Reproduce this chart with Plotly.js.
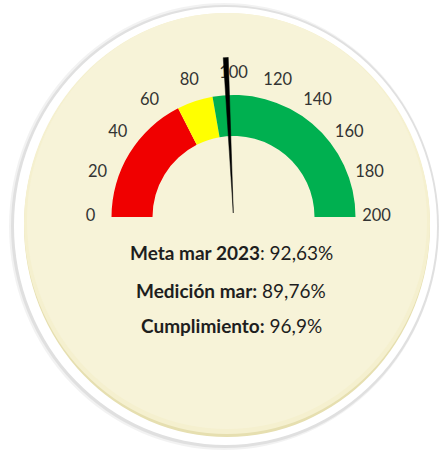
<!DOCTYPE html>
<html>
<head>
<meta charset="utf-8">
<script src="https://cdn.plot.ly/plotly-3.0.1.min.js"></script>
<style>html,body{margin:0;padding:0;background:#fff;}#chart{width:439px;height:450px;}</style>
</head>
<body>
<div id="chart"></div>
<script>
// ---- data ----
const gaugeMin = 0;
const gaugeMax = 200;
const tickValues = [0, 20, 40, 60, 80, 100, 120, 140, 160, 180, 200];
const tickLabels = ["0", "20", "40", "60", "80", "100", "120", "140", "160", "180", "200"];
const bandStarts = [0, 70, 89];
const bandEnds = [70, 89, 200];
const bandColors = ["#F00000", "#FFFF00", "#00B050"];
const needleValue = 96.9;
const infoLabels = ["Meta mar 2023", "Medición mar:", "Cumplimiento:"];
const infoSeparators = [": ", " ", " "];
const infoValues = [92.63, 89.76, 96.9];

// ---- helpers ----
const W = 439, H = 450;
const deg = v => (v - gaugeMin) * 180 / (gaugeMax - gaugeMin);
const px = x => x / W;
const py = y => 1 - y / H;
const fmt = v => String(v).replace('.', ',') + '%';

// gauge geometry (pixels)
const cx = 233.5, cy = 217;
const rMax = 160, rOuter = 122, rInner = 81, rLabel = 143, rNeedleBase = 4;
const needleHalf = 0.9; // degrees

const traces = [];
traces.push({
  type: 'barpolar',
  r: bandStarts.map(() => rOuter - rInner),
  base: bandStarts.map(() => rInner),
  theta: bandStarts.map((s, i) => (deg(s) + deg(bandEnds[i])) / 2),
  width: bandStarts.map((s, i) => deg(bandEnds[i]) - deg(s)),
  marker: {color: bandColors, line: {width: 0}},
  hoverinfo: 'skip'
});
traces.push({
  type: 'scatterpolar',
  mode: 'text',
  r: tickValues.map(() => rLabel),
  theta: tickValues.map(deg),
  text: tickLabels,
  textposition: 'middle center',
  textfont: {family: 'Lato, sans-serif', size: 16.5, color: '#333333'},
  cliponaxis: false,
  hoverinfo: 'skip'
});
const nd = deg(needleValue);
traces.push({
  type: 'scatterpolar',
  mode: 'lines',
  r: [rNeedleBase, rMax, rMax, rNeedleBase],
  theta: [nd, nd - needleHalf, nd + needleHalf, nd],
  fill: 'toself',
  fillcolor: '#000000',
  line: {color: '#000000', width: 0.5},
  cliponaxis: false,
  hoverinfo: 'skip'
});

const ell = (x0, y0, x1, y1, color) => ({
  type: 'circle', xref: 'paper', yref: 'paper', layer: 'below',
  x0: px(x0), x1: px(x1), y0: py(y1), y1: py(y0),
  fillcolor: color, line: {width: 0}
});

const shapes = [
  ell(9, 3, 439, 450, 'rgba(0,0,0,0.05)'),
  ell(11, 5, 439, 448, 'rgba(0,0,0,0.07)'),
  ell(14, 7, 437, 445, '#FFFFFF'),
  ell(24, 14, 430, 437, '#E6DFB0'),
  ell(24, 13, 430, 434, '#F5F0CF'),
  ell(27, 13, 427, 429, '#F7F3D8')
];

const annotations = infoLabels.map((lab, i) => ({
  xref: 'paper', yref: 'paper',
  x: px(231), y: py([252, 290, 325][i]),
  xanchor: 'center', yanchor: 'middle',
  showarrow: false,
  text: '<b>' + lab + '</b>' + infoSeparators[i] + fmt(infoValues[i]),
  font: {family: 'Lato, sans-serif', size: 19, color: '#1E1E1E'}
}));

const layout = {
  width: W, height: H,
  margin: {l: 0, r: 0, t: 0, b: 0},
  paper_bgcolor: '#FFFFFF',
  showlegend: false,
  hovermode: false,
  shapes: shapes,
  annotations: annotations,
  polar: {
    domain: {x: [px(cx - rMax), px(cx + rMax)], y: [py(cy), py(cy - rMax)]},
    sector: [0, 180],
    hole: 0,
    bgcolor: 'rgba(0,0,0,0)',
    radialaxis: {range: [0, rMax], autorange: false, visible: false},
    angularaxis: {rotation: 180, direction: 'clockwise', visible: false, thetaunit: 'degrees'}
  }
};

Plotly.newPlot('chart', traces, layout, {staticPlot: true, displayModeBar: false});
</script>
</body>
</html>
